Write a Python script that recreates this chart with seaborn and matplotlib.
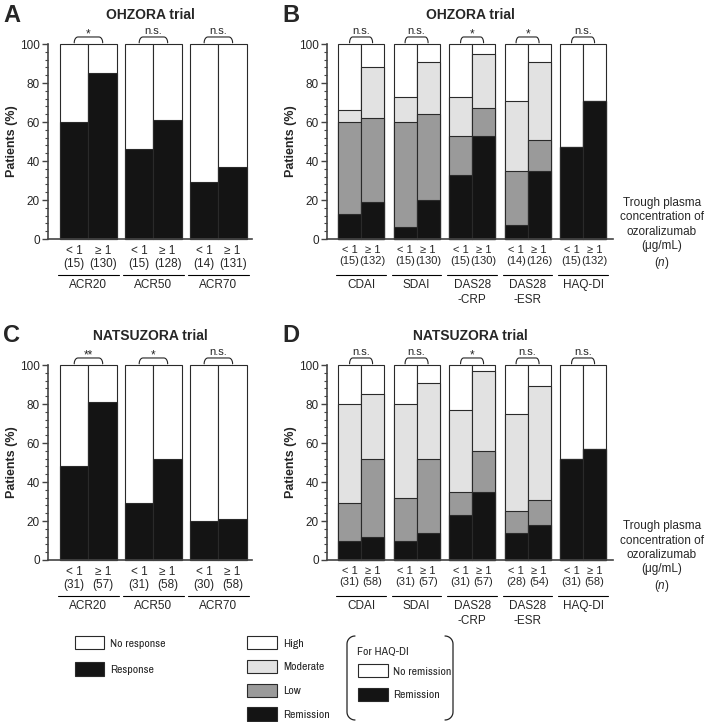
import numpy as np
import pandas as pd
import matplotlib
matplotlib.use("Agg")
import matplotlib.pyplot as plt
import seaborn as sns
from matplotlib.patches import Patch
from matplotlib.lines import Line2D
from matplotlib.ticker import MultipleLocator
from matplotlib.transforms import blended_transform_factory
from matplotlib import font_manager

# --- Data ---
acr_names = ["ACR20", "ACR50", "ACR70"]
da_names = ["CDAI", "SDAI", "DAS28\n-CRP", "DAS28\n-ESR", "HAQ-DI"]
conc_labels = ["< 1", "\u2265 1"]

# OHZORA trial
ohz_acr_n = [15, 130, 15, 128, 14, 131]
ohz_acr_response = [60, 85, 46, 61, 29, 37]
ohz_acr_sig = ["*", "n.s.", "n.s."]

ohz_da_n = [15, 132, 15, 130, 15, 130, 14, 126, 15, 132]
ohz_remission = [13, 19, 6, 20, 33, 53, 7, 35, 47, 71]
ohz_low = [47, 43, 54, 44, 20, 14, 28, 16, 0, 0]
ohz_moderate = [6, 26, 13, 27, 20, 28, 36, 40, 0, 0]
ohz_da_sig = ["n.s.", "n.s.", "*", "*", "n.s."]

# NATSUZORA trial
nat_acr_n = [31, 57, 31, 58, 30, 58]
nat_acr_response = [48, 81, 29, 52, 20, 21]
nat_acr_sig = ["**", "*", "n.s."]

nat_da_n = [31, 58, 31, 57, 31, 57, 28, 54, 31, 58]
nat_remission = [10, 12, 10, 14, 23, 35, 14, 18, 52, 57]
nat_low = [19, 40, 22, 38, 12, 21, 11, 13, 0, 0]
nat_moderate = [51, 33, 48, 39, 42, 41, 50, 58, 0, 0]
nat_da_sig = ["n.s.", "n.s.", "*", "n.s.", "n.s."]

# --- Style ---
sns.set_theme(style="ticks")
plt.rcParams["font.family"] = ["Liberation Sans", "DejaVu Sans"]
plt.rcParams["mathtext.fontset"] = "custom"
plt.rcParams["mathtext.it"] = "Liberation Sans:italic"
plt.rcParams["mathtext.rm"] = "Liberation Sans"

# legend text in the original is a condensed face; use one if there is any
installed = sorted({f.name for f in font_manager.fontManager.ttflist})
condensed = [n for n in installed if "Narrow" in n or "Condensed" in n]
if condensed:
    leg_font, leg_size = condensed[0], 8.5
else:
    leg_font, leg_size = "Liberation Sans", 7.5

BLACK = "#141414"
LOWC = "#9a9a9a"
MODC = "#e2e2e2"
EDGE = "#2a2a2a"
SPINE = "#444444"

W, H = 708, 722
fig = plt.figure(figsize=(W / 100, H / 100), dpi=100)


def rect(left, top, width, height):
    return [left / W, 1 - (top + height) / H, width / W, height / H]


def positions(n_groups, gap):
    return [g * (2 + gap) + j for g in range(n_groups) for j in (0, 1)]


def draw_panel(ax, names, n_vals, layers, sig, gap, xlim, tick_fs):
    pos = positions(len(names), gap)
    # one table with cumulative heights, drawn from the top layer down
    rows = []
    for level, cum, color in layers:
        for p, v in zip(pos, cum):
            rows.append({"pos": p, "level": level, "cum": v})
    df = pd.DataFrame(rows)
    for level, cum, color in layers:
        sns.barplot(data=df[df["level"] == level], x="pos", y="cum",
                    native_scale=True, color=color, saturation=1, width=1,
                    edgecolor=EDGE, linewidth=0.8, errorbar=None, ax=ax)
    for p in ax.patches:
        p.set_clip_on(False)

    ax.set_xlim(*xlim)
    ax.set_ylim(0, 100)
    ax.set_yticks(range(0, 101, 20))
    ax.yaxis.set_minor_locator(MultipleLocator(4))
    ax.tick_params(axis="y", which="major", length=4, width=1, color=SPINE,
                   labelsize=8.5, pad=2)
    ax.tick_params(axis="y", which="minor", length=2.5, width=0.8, color=SPINE)
    ax.set_xticks(pos)
    ax.set_xticklabels([f"{conc_labels[i % 2]}\n({n})" for i, n in enumerate(n_vals)],
                       fontsize=tick_fs, linespacing=1.15)
    ax.tick_params(axis="x", length=0, pad=4)
    ax.set_xlabel("")
    ax.set_ylabel("Patients (%)", fontsize=9, fontweight="bold", labelpad=1)
    sns.despine(ax=ax)
    for s in ("left", "bottom"):
        ax.spines[s].set_color(SPINE)
        ax.spines[s].set_linewidth(1.2)

    trans = blended_transform_factory(ax.transData, ax.transAxes)
    for g, name in enumerate(names):
        x0 = pos[2 * g] - 0.5
        x1 = pos[2 * g + 1] + 0.5
        ax.plot([x0 - 0.08, x1 + 0.08], [-0.185, -0.185], transform=trans,
                color="black", lw=0.8, clip_on=False)
        ax.text((x0 + x1) / 2, -0.205, name, transform=trans, ha="center",
                va="top", fontsize=8.5, linespacing=1.3)
        # significance bracket
        a, b = pos[2 * g], pos[2 * g + 1]
        t = np.linspace(0, np.pi / 2, 8)
        r = 0.13
        left_x = a + r - r * np.cos(t)
        left_y = 100.6 + 3.0 * np.sin(t)
        right_x = b - r + r * np.cos(t[::-1])
        right_y = 100.6 + 3.0 * np.sin(t[::-1])
        ax.plot(np.r_[left_x, right_x], np.r_[left_y, right_y], color="#222222",
                lw=0.8, clip_on=False)
        if "*" in sig[g]:
            ax.text((a + b) / 2, 103.2, sig[g], ha="center", va="baseline",
                    fontsize=8.5)
        else:
            ax.text((a + b) / 2, 105.2, sig[g], ha="center", va="baseline",
                    fontsize=8)


def cumulative(rem, low, mod):
    rem = np.array(rem)
    c_low = rem + np.array(low)
    c_mod = c_low + np.array(mod)
    return [("High", [100] * len(rem), "white"),
            ("Moderate", list(c_mod), MODC),
            ("Low", list(c_low), LOWC),
            ("Remission", list(rem), BLACK)]


def acr_layers(resp):
    return [("No response", [100] * len(resp), "white"),
            ("Response", resp, BLACK)]


axA = fig.add_axes(rect(48, 44, 204, 195))
axB = fig.add_axes(rect(327, 44, 286, 195))
axC = fig.add_axes(rect(48, 365, 204, 195))
axD = fig.add_axes(rect(327, 365, 286, 195))

draw_panel(axA, acr_names, ohz_acr_n, acr_layers(ohz_acr_response), ohz_acr_sig,
           0.28, (-0.92, 6.24), 8.5)
draw_panel(axB, da_names, ohz_da_n, cumulative(ohz_remission, ohz_low, ohz_moderate),
           ohz_da_sig, 0.41, (-0.98, 11.44), 8)
draw_panel(axC, acr_names, nat_acr_n, acr_layers(nat_acr_response), nat_acr_sig,
           0.28, (-0.92, 6.24), 8.5)
draw_panel(axD, da_names, nat_da_n, cumulative(nat_remission, nat_low, nat_moderate),
           nat_da_sig, 0.41, (-0.98, 11.44), 8)

# titles and panel letters
for ax, title in ((axA, "OHZORA trial"), (axB, "OHZORA trial"),
                  (axC, "NATSUZORA trial"), (axD, "NATSUZORA trial")):
    ax.text(0.5, 1 + 29 / 195, title, transform=ax.transAxes, ha="center",
            va="center", fontsize=10, fontweight="bold")
for letter, x, y in (("A", 3, 15), ("B", 282, 15), ("C", 3, 336), ("D", 282, 336)):
    fig.text(x / W, 1 - y / H, letter, ha="left", va="center", fontsize=17,
             fontweight="bold")

# right side annotation
note = "Trough plasma\nconcentration of\nozoralizumab\n(\u03bcg/mL)\n($\\it{n}$)"
for yc in (234, 557):
    fig.text(662 / W, 1 - yc / H, note, ha="center", va="center", fontsize=8.5,
             linespacing=1.25)

# legends
lp = {"family": leg_font, "size": leg_size}
fs_px = leg_size * 100 / 72


def patch(fc, label):
    return Patch(facecolor=fc, edgecolor=EDGE, linewidth=0.8, label=label)


common = dict(loc="upper left", frameon=False, borderpad=0, borderaxespad=0,
              handleheight=16 / fs_px, prop=lp)
fig.legend(handles=[patch("white", "No response"), patch(BLACK, "Response")],
           bbox_to_anchor=(75 / W, 1 - 636 / H), handlelength=29 / fs_px,
           handletextpad=6 / fs_px, labelspacing=13 / fs_px, **common)
fig.legend(handles=[patch("white", "High"), patch(MODC, "Moderate"),
                    patch(LOWC, "Low"), patch(BLACK, "Remission")],
           bbox_to_anchor=(247 / W, 1 - 636 / H), handlelength=30 / fs_px,
           handletextpad=6 / fs_px, labelspacing=10.5 / fs_px, **common)
fig.legend(handles=[patch("white", "No remission"), patch(BLACK, "Remission")],
           bbox_to_anchor=(358 / W, 1 - 664 / H), handlelength=30 / fs_px,
           handletextpad=5 / fs_px, labelspacing=10.5 / fs_px, **common)
fig.text(357 / W, 1 - 652 / H, "For HAQ-DI", ha="left", va="center",
         fontfamily=leg_font, fontsize=leg_size)

# rounded bracket around the HAQ-DI legend
t = np.linspace(0, np.pi / 2, 10)
r = 8
for x_edge, s in ((347, 1), (453, -1)):
    top_x = x_edge + s * (r - r * np.sin(t))
    top_y = 636 + r - r * np.cos(t)
    bot_x = x_edge + s * (r - r * np.cos(t))
    bot_y = 720 - r + r * np.sin(t)
    xs = np.r_[top_x, bot_x] / W
    ys = 1 - np.r_[top_y, bot_y] / H
    fig.add_artist(Line2D(xs, ys, transform=fig.transFigure, color="#222222",
                          lw=0.9))

fig.savefig("out.png", dpi=100)
